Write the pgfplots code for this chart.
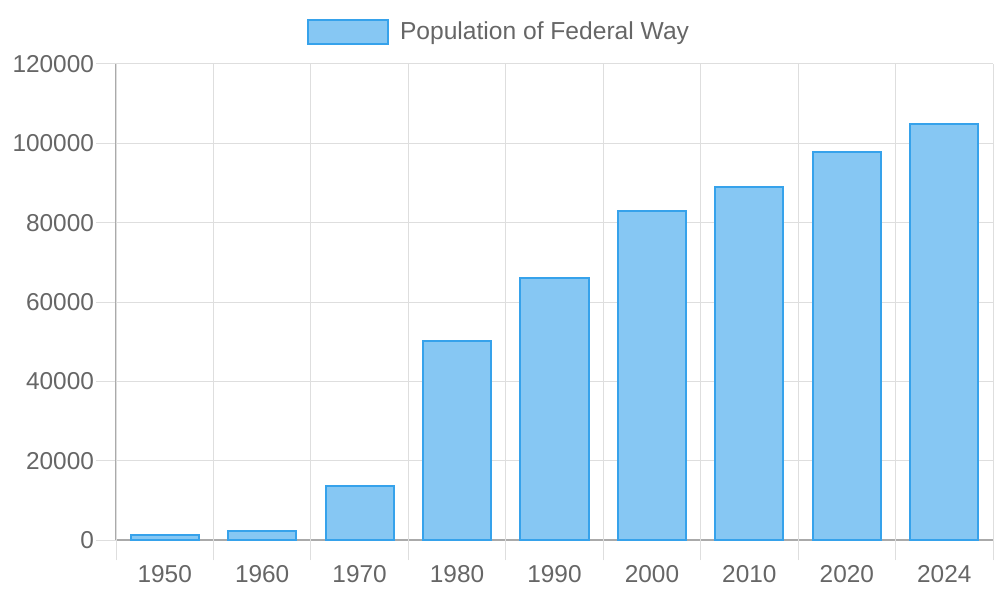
\documentclass[border=0pt]{standalone}
\usepackage{pgfplots}
\pgfplotsset{compat=1.18}
\usepackage{fontspec}
\setmainfont{Liberation Sans}
\definecolor{barfill}{RGB}{134,199,243}
\definecolor{barline}{RGB}{54,162,235}
\definecolor{txt}{RGB}{102,102,102}
\definecolor{gridc}{RGB}{222,222,222}
\definecolor{axc}{RGB}{170,170,170}
\begin{document}
\begin{tikzpicture}
\useasboundingbox (0,0) rectangle (500pt,300pt);
\begin{axis}[
  at={(58pt,30pt)}, anchor=south west,
  width=438.5pt, height=238pt, scale only axis,
  xmin=-0.5, xmax=8.5, ymin=0, ymax=120000,
  axis x line=bottom, axis y line=left,
  axis line style={-, draw=axc, line width=0.75pt},
  ytick={0,20000,40000,60000,80000,100000,120000},
  ymajorgrids,
  grid style={draw=gridc, line width=0.5pt},
  tick align=outside,
  major tick length=10pt,
  y tick style={draw=gridc, line width=0.5pt},
  scaled y ticks=false,
  /pgf/number format/assume math mode=true,
  yticklabel style={font=\fontsize{12.2}{14}\selectfont, text=txt, xshift=2.5pt, /pgf/number format/fixed, /pgf/number format/1000 sep={}},
  xtick={0,1,2,3,4,5,6,7,8},
  xticklabels={1950,1960,1970,1980,1990,2000,2010,2020,2024},
  xticklabel style={font=\fontsize{12.2}{14}\selectfont, text=txt, yshift=1pt},
  x tick style={draw=none},
  extra x ticks={-0.5,0.5,1.5,2.5,3.5,4.5,5.5,6.5,7.5,8.5},
  extra x tick labels={},
  extra x tick style={grid=major, x tick style={draw=gridc, line width=0.5pt}, major tick length=10pt},
  legend style={at={(0.4379,1.067)}, anchor=center, draw=none, fill=none,
    font=\fontsize{12.3}{14}\selectfont, text=txt},
  legend image code/.code={\draw[#1] (0pt,-6pt) rectangle (40pt,6pt); \path (43.5pt,0pt);},
]
\addplot[ybar, bar width=0.7, fill=barfill, draw=barline, line width=1pt]
  coordinates {(0,1300) (1,2200) (2,13600) (3,50200) (4,66000) (5,83000) (6,89100) (7,97900) (8,104900)};
\addlegendentry{Population of Federal Way}
\end{axis}
\end{tikzpicture}
\end{document}
